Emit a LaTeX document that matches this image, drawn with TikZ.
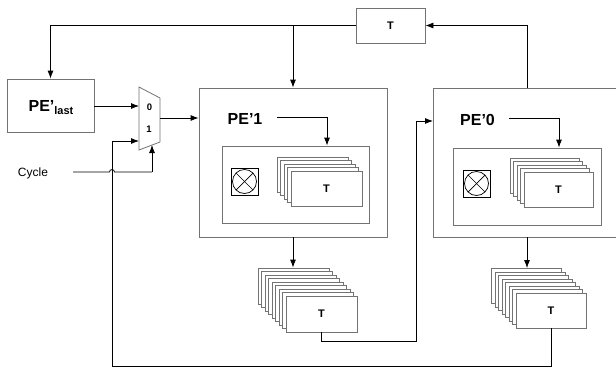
\documentclass[tikz,border=0pt]{standalone}
\usepackage{fontspec}
\setmainfont{Liberation Sans}
\usetikzlibrary{arrows.meta,calc}

\tikzset{
  frame/.style={draw=black!55, line width=0.8pt, fill=white, inner sep=0pt},
  card/.style={frame, minimum width=71pt, minimum height=35pt,
               font=\bfseries\fontsize{11}{13}\selectfont},
  wire/.style={draw=black, line width=0.8pt},
  arr/.style={wire, -{Latex[length=8pt,width=6pt]}},
  pelabel/.style={font=\bfseries\fontsize{16}{18}\selectfont, inner sep=0pt, anchor=base},
  muxlabel/.style={font=\bfseries\fontsize{9.5}{11}\selectfont, inner sep=0pt},
  xbox/.style={draw=black, line width=0.7pt, minimum size=27pt, inner sep=0pt},
}

% stack of cards: name, front centre x, front centre y, number of cards behind, width, height
% the cards behind are named <name>-1 ... <name>-n (n = farthest back)
\newcommand\cardstack[6]{%
  \foreach \i in {#4,...,1} {
    \node[card, minimum width=#5, minimum height=#6] (#1-\i) at (#2-3.5*\i, #3-3.5*\i) {};
  }
  \node[card, minimum width=#5, minimum height=#6] (#1) at (#2, #3) {T};
}

% multiplier symbol: circle with a cross in a square
\newcommand\mulbox[2]{%
  \node[xbox] (#1) at #2 {};
  \draw[line width=0.7pt] (#1.center) circle (12pt);
  \draw[line width=0.7pt] ($(#1.center)+(45:12pt)$) -- ($(#1.center)+(225:12pt)$);
  \draw[line width=0.7pt] ($(#1.center)+(135:12pt)$) -- ($(#1.center)+(315:12pt)$);
}

\begin{document}
\begin{tikzpicture}[x=1pt, y=-1pt]
  \path[use as bounding box] (0,0) rectangle (616,370);
  \fill[white] (0,0) rectangle (616,370);

  % register at the top and the last processing element
  \node[frame, minimum width=69pt, minimum height=35pt,
        font=\bfseries\fontsize{11}{13}\selectfont] (tbox) at (390.5,25.5) {T};
  \node[frame, minimum width=87pt, minimum height=53pt] (pelast) at (50.5,105.5) {};
  \node[pelabel, anchor=base] (pelastlab) at (51,111)
       {PE’\raisebox{-3pt}{\fontsize{11}{12}\selectfont last}};

  % outer frames of the two processing elements (PE'0 is open to the right)
  \node[frame, minimum width=188pt, minimum height=149pt] (pe1) at (293,162.5) {};
  \coordinate (pe0NW) at (433,88);
  \coordinate (pe0SW) at (433,237);
  \draw[draw=black!55, line width=0.8pt] (616,88) -- (pe0NW) -- (pe0SW) -- (616,237);

  % inner frames
  \node[frame, minimum width=147pt, minimum height=77pt] (in1) at (295.5,184.5) {};
  \node[frame, minimum width=148pt, minimum height=77pt] (in0) at (527,186.5) {};

  \node[pelabel] (pe1lab) at (245,124) {PE’1};
  \node[pelabel] (pe0lab) at (477.5,125) {PE’0};

  \mulbox{x1}{(244.5,181.5)}
  \mulbox{x0}{(476.5,183.5)}

  \cardstack{s1}{326.5}{188.5}{4}{71pt}{35pt}
  \cardstack{s0}{558.5}{189.5}{4}{69pt}{35pt}

  % output stacks
  \cardstack{ls}{321.5}{314}{8}{71pt}{36pt}
  \cardstack{rs}{551}{310.5}{7}{70pt}{35pt}

  % multiplexer
  \coordinate (mTL) at (139,87);
  \coordinate (mTR) at (160,98);
  \coordinate (mBR) at (160,142);
  \coordinate (mBL) at (139,150);
  \draw[draw=black!55, line width=0.8pt, fill=white] (mTL) -- (mTR) -- (mBR) -- (mBL) -- cycle;
  \node[muxlabel] (m0) at (149.5,107.5) {0};
  \node[muxlabel] (m1) at (149,129) {1};
  \coordinate (min0) at (139,106);
  \coordinate (min1) at (139,141);
  \coordinate (mout) at (160,118);
  \coordinate (msel) at (152,145);

  % Cycle input
  \node[font=\fontsize{12}{14}\selectfont, inner sep=0pt, anchor=base] (cyc) at (33,176) {Cycle};
  \coordinate (cycS) at (73,172);
  \draw[wire] (cycS) -- (109.5,172) arc[start angle=180, end angle=0, radius=2.5pt]
              -- (msel |- cycS);
  \draw[arr] (msel |- cycS) -- (msel);

  % connectors
  \draw[arr] (pelast.east |- min0) -- (min0);
  \draw[arr] (mout) -- (pe1.west |- mout);

  \draw[arr] (tbox.west) -| (pelast.north);
  \draw[arr] (tbox.west -| pe1.north) -- (pe1.north);

  \coordinate (tap0) at (527,88);
  \draw[arr] (tap0) |- (tbox.east);

  \coordinate (p1a) at (277,117);
  \draw[arr] (p1a) -| (327,0 |- in1.north);
  \coordinate (p0a) at (509,118);
  \draw[arr] (p0a) -| (559,0 |- in0.north);

  \draw[arr] (pe1.south) -- (pe1.south |- ls-8.north);
  \draw[arr] (tap0 |- pe0SW) -- (tap0 |- rs-7.north);

  \coordinate (j1) at (416,341);
  \coordinate (pe0in) at (433,121);
  \draw[arr] (ls.south) |- (j1) |- (pe0in);

  \coordinate (j2) at (112,366);
  \draw[arr] (rs.south) |- (j2) |- (min1);
\end{tikzpicture}
\end{document}
